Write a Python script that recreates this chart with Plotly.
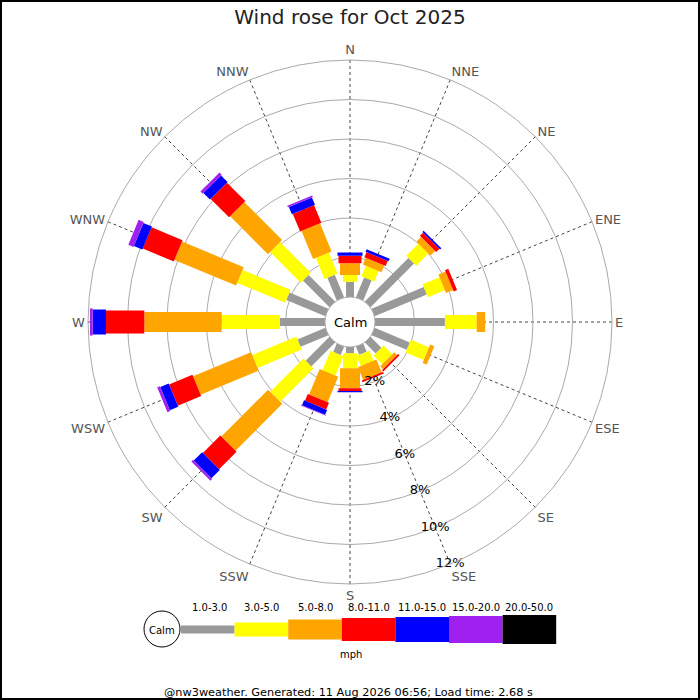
import numpy as np
import plotly.graph_objects as go

# wind rose data, % of time per direction and speed bin
directions = ["N", "NNE", "NE", "ENE", "E", "ESE", "SE", "SSE",
              "S", "SSW", "SW", "WSW", "W", "WNW", "NW", "NNW"]
dir_angles = [0, 22.5, 45, 67.5, 90, 112.5, 135, 157.5,
              180, 202.5, 225, 247.5, 270, 292.5, 315, 337.5]

speed_bins = ["1.0-3.0", "3.0-5.0", "5.0-8.0", "8.0-11.0", "11.0-15.0", "15.0-20.0", "20.0-50.0"]
bin_colors = ["#999999", "#ffff00", "#ffa500", "#ff0000", "#0000ff", "#a020f0", "#000000"]
bin_widths = [8, 14, 20, 23, 25, 27, 29]

pct_1_3 = [0.77, 1.10, 3.12, 2.86, 3.54, 1.93, 0.78, 0.45, 0.32, 0.46, 1.71, 1.53, 2.28, 2.14, 1.90, 1.24]
pct_3_5 = [0.34, 0.57, 0.88, 0.93, 1.61, 0.99, 0.62, 0.55, 0.76, 1.06, 2.38, 2.42, 2.95, 2.63, 2.20, 1.15]
pct_5_8 = [0.60, 0.37, 0.32, 0.39, 0.43, 0.23, 0.20, 0.70, 1.01, 1.40, 3.35, 3.18, 3.92, 3.38, 2.71, 1.54]
pct_8_11 = [0.38, 0.28, 0.23, 0.18, 0.0, 0.0, 0.10, 0.10, 0.14, 0.37, 1.25, 1.28, 1.94, 1.70, 1.32, 0.97]
pct_11_15 = [0.16, 0.14, 0.09, 0.0, 0.0, 0.0, 0.0, 0.0, 0.06, 0.27, 0.60, 0.46, 0.67, 0.47, 0.47, 0.40]
pct_15_20 = [0.0, 0.0, 0.0, 0.0, 0.0, 0.0, 0.0, 0.0, 0.0, 0.03, 0.12, 0.15, 0.14, 0.28, 0.16, 0.09]
pct_20_50 = [0.0] * 16

radial_ticks = [2, 4, 6, 8, 10, 12]
title = "Wind rose for Oct 2025"
footer = "@nw3weather. Generated: 11 Aug 2026 06:56; Load time: 2.68 s"

FONT = "DejaVu Sans"
W = H = 700


def px(x):
    return x / W


def py(y):
    return 1 - y / H


def label(text, x, y, size, color="#000000"):
    return dict(text=text, x=px(x), y=py(y), xref="paper", yref="paper",
                xanchor="center", yanchor="middle", showarrow=False,
                font=dict(family=FONT, size=size, color=color))


cum = np.cumsum(np.array([pct_1_3, pct_3_5, pct_5_8, pct_8_11, pct_11_15, pct_15_20, pct_20_50]), axis=0)

fig = go.Figure()
for i, name in enumerate(speed_bins):
    r, th = [], []
    for j, ang in enumerate(dir_angles):
        lo = cum[i - 1][j] if i else 0.0
        hi = cum[i][j]
        if hi - lo <= 0:
            continue
        r += [lo, hi, None]
        th += [ang, ang, None]
    fig.add_trace(go.Scatterpolar(
        r=r, theta=th, mode="lines", name=name,
        line=dict(color=bin_colors[i], width=bin_widths[i]),
        connectgaps=False, hoverinfo="skip", showlegend=False,
    ))

# radial tick labels along SSE
fig.add_trace(go.Scatterpolar(
    r=radial_ticks, theta=[157.5] * len(radial_ticks), mode="text",
    text=[f"{v}%" for v in radial_ticks],
    textfont=dict(family=FONT, size=13, color="#000000"),
    hoverinfo="skip", showlegend=False,
))

fig.update_layout(
    width=W, height=H,
    margin=dict(l=0, r=0, t=0, b=0),
    paper_bgcolor="white",
    font=dict(family=FONT),
    title=dict(text=title, x=0.5, y=py(17), xanchor="center", yanchor="middle",
               font=dict(family=FONT, size=20, color="#222222")),
    polar=dict(
        domain=dict(x=[px(88), px(612)], y=[py(584), py(60)]),
        bgcolor="white",
        hole=25 / 262,
        radialaxis=dict(range=[0, 12], tickvals=radial_ticks, showticklabels=False,
                        ticks="", showline=False, gridcolor="#aaaaaa", gridwidth=1),
        angularaxis=dict(direction="clockwise", rotation=90, tickmode="array",
                         tickvals=dir_angles, ticktext=directions, ticks="",
                         tickfont=dict(family=FONT, size=13, color="#555555"),
                         showline=True, linecolor="#aaaaaa", linewidth=1,
                         gridcolor="#444444", griddash="dot", gridwidth=1),
    ),
)

shapes = []
annotations = [label("Calm", 350, 322, 13)]

# legend strip
shapes.append(dict(type="circle", xref="paper", yref="paper",
                   x0=px(144), x1=px(180), y0=py(647), y1=py(611),
                   line=dict(color="#000", width=1), fillcolor="white"))
annotations.append(label("Calm", 162, 630, 10))
x_left = 181
block_w = 53.6
for i, name in enumerate(speed_bins):
    x0 = x_left + i * block_w
    x1 = x0 + block_w
    yc = 629.5
    hw = bin_widths[i] / 2
    shapes.append(dict(type="rect", xref="paper", yref="paper",
                       x0=px(x0), x1=px(x1), y0=py(yc + hw), y1=py(yc - hw),
                       fillcolor=bin_colors[i], line=dict(width=0)))
    annotations.append(label(name, (x0 + x1) / 2 + (2 if i == 0 else 0), 607, 10))
annotations.append(label("mph", 351, 654, 10))
annotations.append(label(footer, 348, 692, 11.3))

# image border
shapes.append(dict(type="rect", xref="paper", yref="paper", x0=px(1), x1=px(699),
                   y0=py(699), y1=py(1), line=dict(color="#000", width=2)))

fig.update_layout(shapes=shapes, annotations=annotations)
fig.write_html("out.html", config={"displayModeBar": False},
               post_script="document.body.style.margin='0';")
